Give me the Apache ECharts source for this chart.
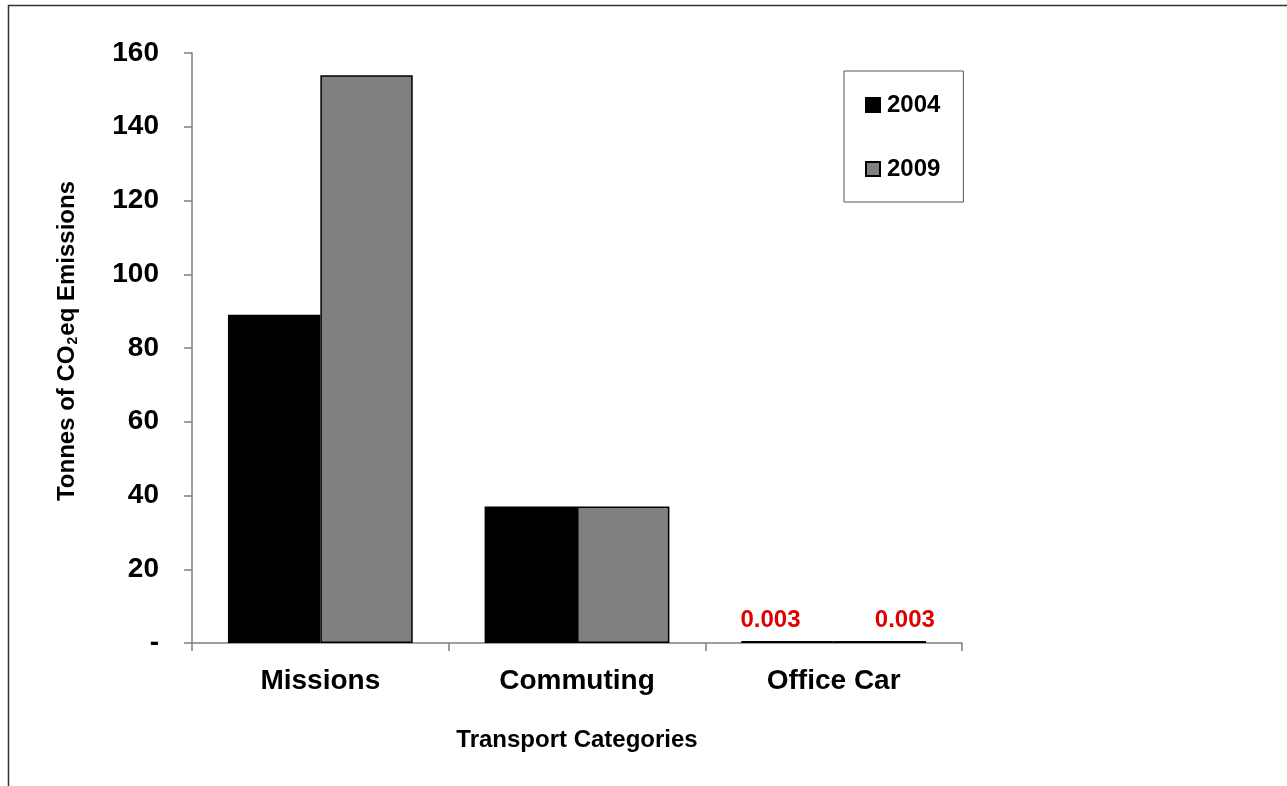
<!DOCTYPE html>
<html>
<head>
<meta charset="utf-8">
<title>Transport Emissions</title>
<script src="https://cdn.jsdelivr.net/npm/echarts@6/dist/echarts.min.js"></script>
<style>
    html, body {margin: 0; padding: 0; background: #fff;}
    #chart {width: 1287px; height: 786px;}
</style>
</head>
<body>
<div id="chart"></div>
<script>
var categories = ['Missions', 'Commuting', 'Office Car'];
var years = ['2004', '2009'];
var values2004 = [89, 37, 0.003];
var values2009 = [154, 37, 0.003];
var yTicks = {min: 0, max: 160, interval: 20};

var FONT = '"Liberation Sans", Arial, sans-serif';

var myChart = echarts.init(document.getElementById('chart'));

// only the tiny office car values get a red label, like in the sheet
function buildData(list, labelOffset) {
    return list.map(function (v) {
        var item = {value: v};
        if (v < 1) {
            item.label = {
                show: true,
                position: 'top',
                distance: 9,
                offset: labelOffset,
                formatter: '0.003',
                color: '#e00000',
                fontSize: 24,
                fontWeight: 'bold',
                fontFamily: FONT
            };
        }
        return item;
    });
}

var option = {
    backgroundColor: '#fff',
    animation: false,
    textStyle: {fontFamily: FONT},
    graphic: [
        {
            type: 'rect',
            shape: {x: 8.5, y: 5.5, width: 1400, height: 900},
            style: {fill: null, stroke: '#333', lineWidth: 1.5}
        }
    ],
    legend: {
        orient: 'vertical',
        left: 844,
        top: 71,
        padding: [22, 23, 21, 21],
        itemGap: 40,
        itemWidth: 14,
        itemHeight: 14,
        icon: 'rect',
        borderColor: '#555',
        borderWidth: 1,
        textStyle: {
            fontSize: 24,
            fontWeight: 'bold',
            color: '#000',
            fontFamily: FONT,
            padding: [0, 0, 0, 2]
        },
        data: years
    },
    grid: {
        left: 192,
        right: 325,
        top: 53,
        bottom: 143
    },
    xAxis: {
        type: 'category',
        data: categories,
        name: 'Transport Categories',
        nameLocation: 'middle',
        nameGap: 85,
        nameTextStyle: {fontSize: 24, fontWeight: 'bold', color: '#000', fontFamily: FONT},
        axisLine: {lineStyle: {color: '#7f7f7f', width: 1.5}},
        axisTick: {show: true, length: 8, lineStyle: {color: '#7f7f7f', width: 1.5}},
        axisLabel: {fontSize: 28, fontWeight: 'bold', color: '#000', margin: 24, fontFamily: FONT}
    },
    yAxis: {
        type: 'value',
        min: yTicks.min,
        max: yTicks.max,
        interval: yTicks.interval,
        name: '{a|Tonnes of CO}{b|2}{a|eq Emissions}',
        nameLocation: 'middle',
        nameGap: 112,
        nameRotate: 90,
        nameTextStyle: {
            padding: [0, 0, 0, 14],
            rich: {
                a: {fontSize: 24, fontWeight: 'bold', color: '#000', fontFamily: FONT, lineHeight: 26},
                b: {fontSize: 14, fontWeight: 'bold', color: '#000', fontFamily: FONT, lineHeight: 26, verticalAlign: 'bottom', padding: [0, 1, 0, 1]}
            }
        },
        splitLine: {show: false},
        axisLine: {show: true, lineStyle: {color: '#7f7f7f', width: 1.5}},
        axisTick: {show: true, length: 8, lineStyle: {color: '#7f7f7f', width: 1.5}},
        axisLabel: {
            fontSize: 28,
            fontWeight: 'bold',
            color: '#000',
            margin: 33,
            fontFamily: FONT,
            formatter: function (v) {
                return v === 0 ? '-' : v;
            }
        }
    },
    series: [
        {
            name: years[0],
            type: 'bar',
            barGap: '0%',
            barCategoryGap: '28%',
            barMinHeight: 2,
            itemStyle: {color: '#000000', borderColor: '#000', borderWidth: 1.5},
            data: buildData(values2004, [-17, 0])
        },
        {
            name: years[1],
            type: 'bar',
            barMinHeight: 2,
            itemStyle: {color: '#808080', borderColor: '#000', borderWidth: 1.5},
            data: buildData(values2009, [25, 0])
        }
    ]
};

myChart.setOption(option);
</script>
</body>
</html>
